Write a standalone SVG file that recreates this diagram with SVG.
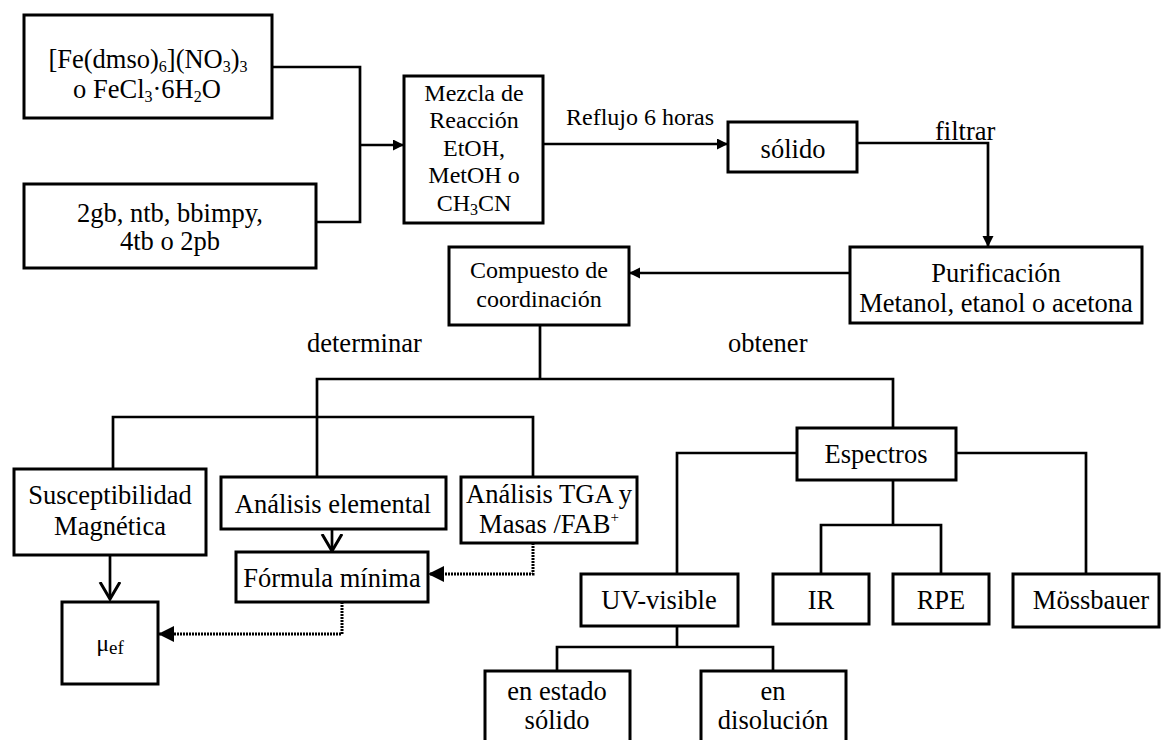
<svg xmlns="http://www.w3.org/2000/svg" width="1161" height="740" viewBox="0 0 1161 740" font-family="'Liberation Serif', 'Times New Roman', Times, serif">
<style>
.box{fill:#fff;stroke:#000;stroke-width:3}
.ln{fill:none;stroke:#000;stroke-width:2.7}
.dot{fill:none;stroke:#000;stroke-width:3;stroke-dasharray:2 1}
text{font-family:'Liberation Serif', 'Times New Roman', Times, serif;font-size:26.5px;fill:#000}
.c{text-anchor:middle}
.s24{font-size:24px}
</style>
<defs>
<marker id="arr" markerUnits="userSpaceOnUse" markerWidth="12" markerHeight="12" refX="11" refY="5.5" orient="auto">
<path d="M0,0 L11,5.5 L0,11 z" fill="#000"/>
</marker>
<marker id="arrD" markerUnits="userSpaceOnUse" markerWidth="17" markerHeight="16" refX="16" refY="8" orient="auto">
<path d="M0,0 L16,8 L0,16 z" fill="#000"/>
</marker>
<marker id="vee" markerUnits="userSpaceOnUse" markerWidth="22" markerHeight="24" refX="17" refY="11" orient="auto">
<path d="M0,1 L17,11 L0,21" fill="none" stroke="#000" stroke-width="3"/>
</marker>
</defs>
<rect width="1161" height="740" fill="#fff"/>
<g id="connectors">
<polyline class="ln" points="272,67 360,67 360,222 316,222"/>
<line class="ln" x1="360" y1="145" x2="404" y2="145" marker-end="url(#arr)"/>
<line class="ln" x1="543" y1="144" x2="728" y2="144" marker-end="url(#arr)"/>
<polyline class="ln" points="857,143 988,143 988,247" marker-end="url(#arr)"/>
<line class="ln" x1="850" y1="273" x2="629" y2="273" marker-end="url(#arr)"/>
<line class="ln" x1="540" y1="325" x2="540" y2="379"/>
<polyline class="ln" points="317,477 317,379 893,379 893,428"/>
<polyline class="ln" points="113,469 113,417 533,417 533,477"/>
<line class="ln" x1="110" y1="555" x2="110" y2="599" marker-end="url(#vee)"/>
<line class="ln" x1="332" y1="529" x2="332" y2="551" marker-end="url(#vee)"/>
<polyline class="dot" points="533,543 533,574 428,574" marker-end="url(#arrD)"/>
<polyline class="dot" points="342,602 342,634 158,634" marker-end="url(#arrD)"/>
<polyline class="ln" points="797,453 677,453 677,574"/>
<polyline class="ln" points="956,453 1086,453 1086,574"/>
<line class="ln" x1="893" y1="480" x2="893" y2="525"/>
<polyline class="ln" points="821,574 821,525 941,525 941,574"/>
<line class="ln" x1="677" y1="626" x2="677" y2="647"/>
<polyline class="ln" points="557,671 557,647 773,647 773,671"/>
</g>
<g id="labels">
<text class="s24 c" x="640" y="125">Reflujo 6 horas</text>
<text x="935" y="140">filtrar</text>
<text x="307" y="352">determinar</text>
<text x="728" y="352">obtener</text>
</g>
<g id="n-fe">
<rect class="box" x="24" y="15" width="248" height="103"/>
<text class="c" x="148" y="68">[Fe(dmso)<tspan dy="4" font-size="16">6</tspan><tspan dy="-4">](NO</tspan><tspan dy="4" font-size="16">3</tspan><tspan dy="-4">)</tspan><tspan dy="4" font-size="16">3</tspan></text>
<text class="c" x="147" y="98">o FeCl<tspan dy="4" font-size="16">3</tspan><tspan dy="-4">·6H</tspan><tspan dy="4" font-size="16">2</tspan><tspan dy="-4">O</tspan></text>
</g>
<g id="n-lig">
<rect class="box" x="24" y="184" width="292" height="84"/>
<text class="c" x="170" y="222">2gb, ntb, bbimpy,</text>
<text class="c" x="170" y="250">4tb o 2pb</text>
</g>
<g id="n-mezcla">
<rect class="box" x="404" y="76" width="139" height="147"/>
<text class="c s24" x="474" y="101">Mezcla de</text>
<text class="c s24" x="474" y="128">Reacción</text>
<text class="c s24" x="474" y="156">EtOH,</text>
<text class="c s24" x="474" y="183">MetOH o</text>
<text class="c s24" x="474" y="211">CH<tspan dy="4" font-size="16">3</tspan><tspan dy="-4">CN</tspan></text>
</g>
<g id="n-solido">
<rect class="box" x="728" y="122" width="129" height="50"/>
<text class="c" x="793" y="158">sólido</text>
</g>
<g id="n-purif">
<rect class="box" x="850" y="247" width="292" height="76"/>
<text class="c" x="996" y="282">Purificación</text>
<text class="c" x="996" y="312">Metanol, etanol o acetona</text>
</g>
<g id="n-compuesto">
<rect class="box" x="449" y="247" width="180" height="78"/>
<text class="c s24" x="539" y="278">Compuesto de</text>
<text class="c s24" x="539" y="307">coordinación</text>
</g>
<g id="n-suscept">
<rect class="box" x="14" y="469" width="192" height="86"/>
<text class="c" x="110" y="504">Susceptibilidad</text>
<text class="c" x="110" y="535">Magnética</text>
</g>
<g id="n-elemental">
<rect class="box" x="221" y="477" width="225" height="52"/>
<text class="c" x="333" y="513">Análisis elemental</text>
</g>
<g id="n-tga">
<rect class="box" x="461" y="477" width="176" height="66"/>
<text class="c" x="549" y="503">Análisis TGA y</text>
<text class="c" x="549" y="533">Masas /FAB<tspan dy="-11" font-size="15">+</tspan></text>
</g>
<g id="n-formula">
<rect class="box" x="236" y="552" width="192" height="50"/>
<text class="c" x="332" y="587">Fórmula mínima</text>
</g>
<g id="n-mu">
<rect class="box" x="62" y="602" width="96" height="82"/>
<text class="c" x="110" y="651"><tspan font-size="24">μ</tspan><tspan dy="3" font-size="19">ef</tspan></text>
</g>
<g id="n-espectros">
<rect class="box" x="797" y="428" width="159" height="52"/>
<text class="c" x="876" y="463">Espectros</text>
</g>
<g id="n-uv">
<rect class="box" x="581" y="574" width="157" height="52"/>
<text class="c" x="659" y="609">UV-visible</text>
</g>
<g id="n-ir">
<rect class="box" x="773" y="574" width="96" height="50"/>
<text class="c" x="821" y="609">IR</text>
</g>
<g id="n-rpe">
<rect class="box" x="893" y="574" width="96" height="50"/>
<text class="c" x="941" y="609">RPE</text>
</g>
<g id="n-moss">
<rect class="box" x="1013" y="574" width="146" height="53"/>
<text class="c" x="1091" y="609">Mössbauer</text>
</g>
<g id="n-estado">
<rect class="box" x="485" y="671" width="145" height="75"/>
<text class="c" x="557" y="700">en estado</text>
<text class="c" x="557" y="729">sólido</text>
</g>
<g id="n-disol">
<rect class="box" x="701" y="671" width="145" height="75"/>
<text class="c" x="773" y="700">en</text>
<text class="c" x="773" y="729">disolución</text>
</g>
</svg>
